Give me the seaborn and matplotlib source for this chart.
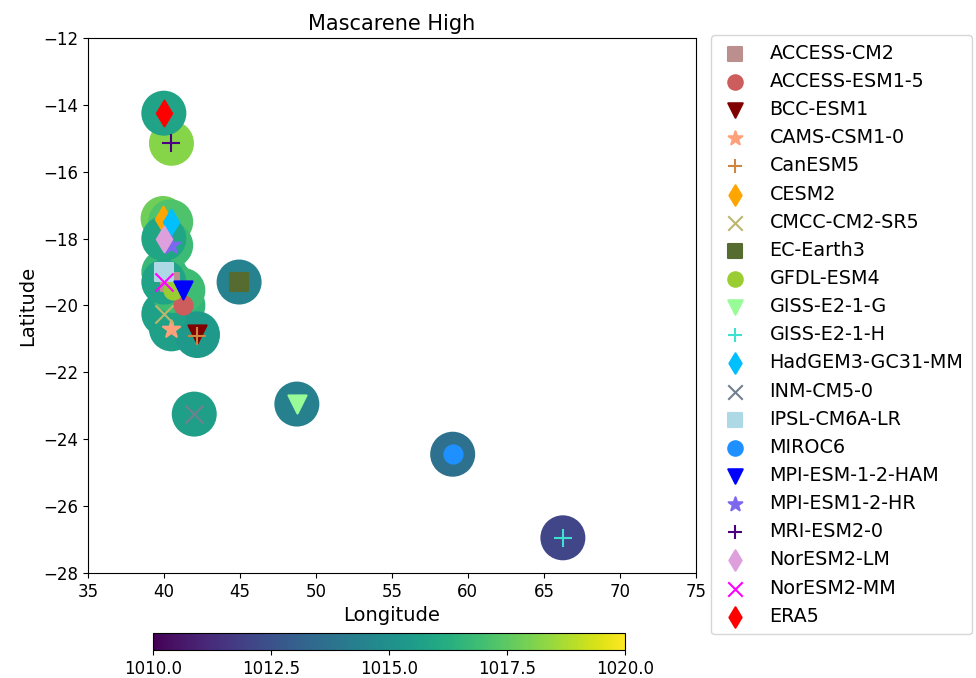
import seaborn as sns
import matplotlib.pyplot as plt
import matplotlib as mpl
import pandas as pd

models = ['ACCESS-CM2', 'ACCESS-ESM1-5', 'BCC-ESM1', 'CAMS-CSM1-0', 'CanESM5', 'CESM2',
          'CMCC-CM2-SR5', 'EC-Earth3', 'GFDL-ESM4', 'GISS-E2-1-G', 'GISS-E2-1-H',
          'HadGEM3-GC31-MM', 'INM-CM5-0', 'IPSL-CM6A-LR', 'MIROC6', 'MPI-ESM-1-2-HAM',
          'MPI-ESM1-2-HR', 'MRI-ESM2-0', 'NorESM2-LM', 'NorESM2-MM', 'ERA5']
lon = [40.4, 41.25, 42.2, 40.5, 42.2, 39.95, 40.0, 44.95, 40.6, 48.75, 66.25,
       40.45, 42.0, 40.0, 59.0, 41.25, 40.45, 40.5, 40.0, 40.0, 40.0]
lat = [-19.3, -20.0, -20.85, -20.7, -20.9, -17.4, -20.25, -19.3, -19.55, -22.95, -26.95,
       -17.5, -23.25, -19.0, -24.45, -19.55, -18.2, -15.15, -18.0, -19.3, -14.25]
mslp = [1016.2, 1016.6, 1015.4, 1015.6, 1015.4, 1017.8, 1015.7, 1014.4, 1016.9, 1014.3, 1012.1,
        1017.2, 1015.6, 1016.7, 1013.7, 1016.9, 1016.8, 1018.2, 1015.9, 1015.8, 1015.8]

colors = ['rosybrown', 'indianred', 'maroon', 'lightsalmon', 'peru', 'orange',
          'darkkhaki', 'darkolivegreen', 'yellowgreen', 'palegreen', 'turquoise',
          'deepskyblue', 'slategray', 'lightblue', 'dodgerblue', 'blue',
          'mediumslateblue', 'indigo', 'plum', 'magenta', 'red']
markers = ['s', 'o', 'v', '*', '+', 'd', 'x', 's', 'o', 'v', '+',
           'd', 'x', 's', 'o', 'v', '*', '+', 'd', 'x', 'd']

df = pd.DataFrame({'model': models, 'lon': lon, 'lat': lat, 'mslp': mslp})

fig = plt.figure(figsize=(9.76, 6.78), dpi=100)
ax = fig.add_axes([0.090, 0.155, 0.623, 0.789])

norm = mpl.colors.Normalize(1010, 1020)
# pressure circles
sns.scatterplot(data=df, x='lon', y='lat', hue='mslp', palette='viridis', hue_norm=norm,
                s=1050, linewidth=0, legend=False, ax=ax, zorder=2)

# model markers on top
for i in range(len(models)):
    ax.scatter(lon[i], lat[i], marker=markers[i], c=colors[i], s=170,
               linewidths=1.5, label=models[i], zorder=3)

ax.set_xlim(35, 75)
ax.set_ylim(-28, -12)
ax.set_xlabel('Longitude', fontsize=14)
ax.set_ylabel('Latitude', fontsize=14)
ax.set_title('Mascarene High', fontsize=15)
ax.tick_params(labelsize=12)

ax.legend(loc='upper left', bbox_to_anchor=(1.025, 1.005), fontsize=13.8, markerscale=0.8,
          labelspacing=0.477, borderpad=0.45, handlelength=1.6, handletextpad=1.0,
          borderaxespad=0)

cax = fig.add_axes([0.157, 0.041, 0.483, 0.025])
cb = fig.colorbar(mpl.cm.ScalarMappable(norm=norm, cmap='viridis'), cax=cax,
                  orientation='horizontal')
cb.set_ticks([1010.0, 1012.5, 1015.0, 1017.5, 1020.0])
cb.ax.tick_params(labelsize=12)

fig.savefig('out.png', dpi=100)
